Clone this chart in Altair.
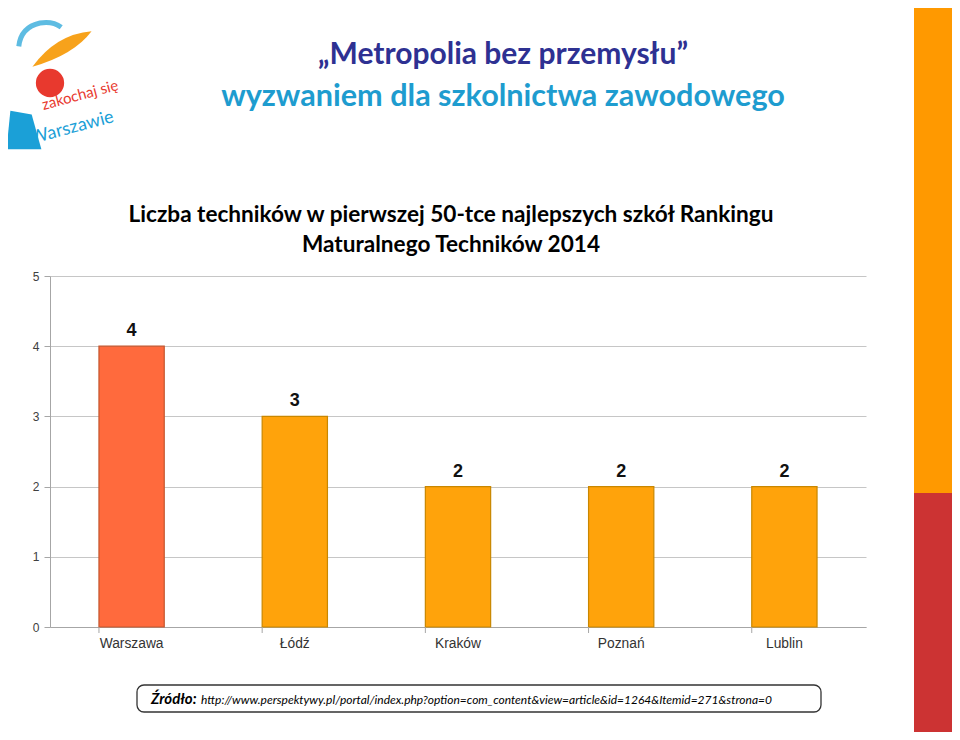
import altair as alt
import pandas as pd

cities = ["Warszawa", "Łódź", "Kraków", "Poznań", "Lublin"]
values = [4, 3, 2, 2, 2]
bar_colors = ["#FF6A3D", "#FFA30B", "#FFA30B", "#FFA30B", "#FFA30B"]
stroke_colors = ["#C4572F", "#C98700", "#C98700", "#C98700", "#C98700"]
y_ticks = [0, 1, 2, 3, 4, 5]

title_line1 = "\u201eMetropolia bez przemysłu\u201d"
title_line2 = "wyzwaniem dla szkolnictwa zawodowego"
chart_title1 = "Liczba techników w pierwszej 50-tce najlepszych szkół Rankingu"
chart_title2 = "Maturalnego Techników 2014"
source_label = "Źródło:"
source_url = "http://www.perspektywy.pl/portal/index.php?option=com_content&view=article&id=1264&Itemid=271&strona=0"

df = pd.DataFrame({"city": cities, "value": values, "fill": bar_colors, "stroke": stroke_colors})
one = pd.DataFrame({"k": [0]})

W, H = 816, 351
OX, OY = 50, 276  # page position of plot origin


def rx(px):
    return px - OX


def ry(py):
    return py - OY


x_enc = alt.X("city:N", sort=cities, title=None,
              scale=alt.Scale(paddingInner=0.6, paddingOuter=0.3),
              axis=alt.Axis(labelAngle=0, ticks=False, labelPadding=9, labelFont="Liberation Sans",
                            labelFontSize=13.8, labelColor="#333333", domainColor="#A6A6A6", domainWidth=1))
y_enc = alt.Y("value:Q", title=None, scale=alt.Scale(domain=[0, 5], nice=False),
              axis=alt.Axis(values=y_ticks, format="d", tickSize=6, tickColor="#A6A6A6",
                            labelPadding=5, labelFont="Liberation Sans", labelFontSize=12,
                            labelColor="#404040", domainColor="#A6A6A6", gridColor="#C6C6C6",
                            gridWidth=1))

bars = alt.Chart(df).mark_bar(strokeWidth=1.2).encode(
    x=x_enc, y=y_enc,
    fill=alt.Fill("fill:N", scale=None),
    stroke=alt.Stroke("stroke:N", scale=None),
)

labels = alt.Chart(df).mark_text(font="Liberation Sans", fontSize=18, fontWeight="bold",
                                 baseline="alphabetic", dy=-10, color="#111111").encode(
    x=alt.X("city:N", sort=cities), y="value:Q", text="value:Q")

xticks = alt.Chart(df).mark_rule(color="#A6A6A6").encode(
    x=alt.X("city:N", sort=cities, bandPosition=0),
    y=alt.value(H), y2=alt.value(H + 6))


def txt(text, px, py, size, color, weight="bold", align="center", font="Lato", style="normal", angle=0):
    kw = dict(text=text, font=font, fontSize=size, fontWeight=weight, color=color,
              align=align, baseline="middle", fontStyle=style)
    if angle:
        kw["angle"] = angle
    return alt.Chart(one).mark_text(**kw).encode(x=alt.value(rx(px)), y=alt.value(ry(py)))


def rect(x1, x2, y1, y2, **kw):
    return alt.Chart(one).mark_rect(**kw).encode(
        x=alt.value(rx(x1)), x2=alt.value(rx(x2)), y=alt.value(ry(y1)), y2=alt.value(ry(y2)))


deco = [
    rect(914, 952, 8, 493, color="#FF9900"),
    rect(914, 952, 493, 732, color="#CC3333"),
    txt(title_line1, 503, 55, 30, "#2E3192"),
    txt(title_line2, 503, 97, 30.6, "#1E9CCF"),
    txt(chart_title1, 451, 215, 22.6, "#000000"),
    txt(chart_title2, 451, 245, 22.6, "#000000"),
    rect(137, 821, 685, 712, fill="white", stroke="#333333", strokeWidth=1.3, cornerRadius=7),
    txt(source_label, 151, 699, 15, "#000000", weight="bold", align="left", style="italic"),
    txt(source_url, 201, 700, 12, "#000000", weight="normal", align="left", style="italic"),
    # logo approximation
    alt.Chart(one).mark_point(shape="M -1 0.5 Q -0.2 -0.6 1 -0.7 Q 0.4 0.1 -1 0.5 Z",
                              filled=True, color="#F7A21B", size=3500, opacity=1).encode(
        x=alt.value(rx(62)), y=alt.value(ry(52))),
    alt.Chart(one).mark_point(shape="M -1 0.3 Q -0.9 -0.6 0 -0.8 Q 0.6 -0.9 1 -0.6",
                              filled=False, color="#1BA0D7", strokeWidth=5, size=1800).encode(
        x=alt.value(rx(40)), y=alt.value(ry(40))),
    alt.Chart(one).mark_point(shape="circle", filled=True, color="#E8392E", size=800, opacity=1).encode(
        x=alt.value(rx(50)), y=alt.value(ry(83))),
    alt.Chart(one).mark_point(shape="M -0.6 -1 L 0.5 -0.8 L 1 1 L -0.8 1 Z",
                              filled=True, color="#1BA0D7", size=1500, opacity=1).encode(
        x=alt.value(rx(22)), y=alt.value(ry(130))),
    txt("zakochaj się", 80, 95, 15, "#E8392E", weight="normal", angle=345),
    txt("Warszawie", 72, 128, 18, "#1BA0D7", weight="normal", angle=345),
]

chart = alt.layer(*deco, bars, labels, xticks).properties(
    width=W, height=H,
    autosize=alt.AutoSizeParams(type="none"),
    padding={"left": 42, "top": 268, "right": 86, "bottom": 105},
    background="white",
).configure_view(stroke=None)

chart.save("out.html", embed_options={"renderer": "svg", "actions": False})
